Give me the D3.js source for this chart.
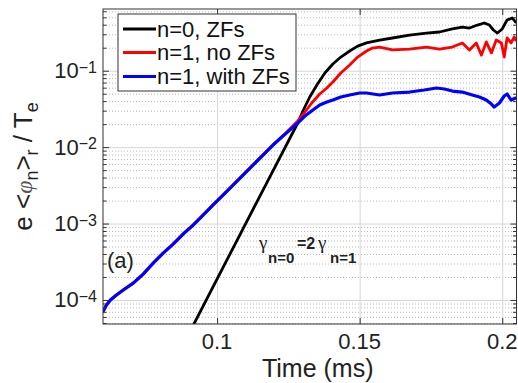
<!DOCTYPE html>
<html>
<head>
<meta charset="utf-8">
<script src="https://cdn.jsdelivr.net/npm/d3@7"></script>
<style>
  html, body { margin: 0; padding: 0; background: #fff; }
  svg { display: block; font-family: "Liberation Sans", Arial, Helvetica, sans-serif; }
</style>
</head>
<body>
<svg id="chart" width="518" height="383"></svg>
<script>
// ---- data: time in ms, amplitude e<phi_n>_r / T_e ----
const blackTime  = [0.0906, 0.1094, 0.1283, 0.1301, 0.1325, 0.1350, 0.1378, 0.1406, 0.1434, 0.1465,
                    0.1493, 0.1524, 0.1570, 0.1615, 0.1675, 0.1734, 0.1780, 0.1825, 0.1860, 0.1885,
                    0.1913, 0.1937, 0.1955, 0.1969, 0.1983, 0.2000, 0.2017, 0.2035, 0.2047];
const blackValue = [3.92e-5, 9.0e-4, 2.07e-2, 0.0297, 0.0453, 0.0650, 0.0933, 0.1224, 0.151, 0.181,
                    0.210, 0.231, 0.252, 0.268, 0.293, 0.311, 0.321, 0.352, 0.373, 0.362,
                    0.396, 0.421, 0.396, 0.341, 0.311, 0.352, 0.461, 0.490, 0.433];

const redTime  = [0.0601, 0.0612, 0.0626, 0.0647, 0.0671, 0.0706, 0.0741, 0.0776, 0.0811, 0.0846,
                  0.0881, 0.0916, 0.0951, 0.0986, 0.1021, 0.1056, 0.1091, 0.1126, 0.1161, 0.1196,
                  0.1231, 0.1255, 0.1283, 0.1308, 0.1332, 0.1360, 0.1385, 0.1406, 0.1434, 0.1465,
                  0.1493, 0.1524, 0.1545, 0.1570, 0.1615, 0.1675, 0.1734, 0.1780, 0.1825, 0.1860,
                  0.1885, 0.1909, 0.1927, 0.1944, 0.1962, 0.1979, 0.1997, 0.2007, 0.2017, 0.2031,
                  0.2042, 0.2047];
const redValue = [7.16e-5, 8.57e-5, 9.98e-5, 1.16e-4, 1.35e-4, 1.66e-4, 2.18e-4, 3.04e-4, 4.11e-4, 5.39e-4,
                  7.29e-4, 9.55e-4, 1.29e-3, 1.75e-3, 2.36e-3, 3.19e-3, 4.31e-3, 5.83e-3, 7.88e-3, 1.065e-2,
                  1.40e-2, 1.73e-2, 2.20e-2, 2.88e-2, 3.78e-2, 4.96e-2, 5.94e-2, 7.11e-2, 9.33e-2, 0.1188,
                  0.151, 0.181, 0.198, 0.204, 0.187, 0.192, 0.204, 0.192, 0.204, 0.231,
                  0.187, 0.231, 0.160, 0.238, 0.171, 0.252, 0.231, 0.151, 0.268, 0.231,
                  0.276, 0.252];

const blueTime  = [0.0601, 0.0612, 0.0626, 0.0647, 0.0671, 0.0706, 0.0741, 0.0776, 0.0811, 0.0846,
                   0.0881, 0.0916, 0.0951, 0.0986, 0.1021, 0.1056, 0.1091, 0.1126, 0.1161, 0.1196,
                   0.1231, 0.1255, 0.1283, 0.1308, 0.1336, 0.1360, 0.1385, 0.1406, 0.1434, 0.1465,
                   0.1500, 0.1524, 0.1570, 0.1615, 0.1675, 0.1727, 0.1769, 0.1797, 0.1825, 0.1860,
                   0.1895, 0.1920, 0.1944, 0.1962, 0.1972, 0.1990, 0.2007, 0.2017, 0.2031, 0.2047];
const blueValue = [7.16e-5, 8.57e-5, 9.98e-5, 1.16e-4, 1.35e-4, 1.66e-4, 2.18e-4, 3.04e-4, 4.11e-4, 5.39e-4,
                   7.29e-4, 9.55e-4, 1.29e-3, 1.75e-3, 2.36e-3, 3.19e-3, 4.31e-3, 5.83e-3, 7.88e-3, 1.065e-2,
                   1.40e-2, 1.67e-2, 2.07e-2, 2.55e-2, 3.06e-2, 3.56e-2, 3.89e-2, 4.13e-2, 4.53e-2, 4.81e-2,
                   5.11e-2, 5.11e-2, 4.81e-2, 5.11e-2, 5.26e-2, 5.59e-2, 5.94e-2, 5.77e-2, 5.42e-2, 5.26e-2,
                   4.81e-2, 4.53e-2, 4.13e-2, 3.66e-2, 3.35e-2, 3.78e-2, 4.67e-2, 4.96e-2, 4.13e-2, 4.39e-2];

const xTicks = [0.1, 0.15, 0.2];
const xTickLabels = ["0.1", "0.15", "0.2"];
const yDecadeExponents = [-4, -3, -2, -1];
const seriesLabels = ["n=0, ZFs", "n=1, no ZFs", "n=1, with ZFs"];

// ---- layout ----
const svg = d3.select("#chart");
const plot = { left: 103, top: 9, right: 516.5, bottom: 324 };
const pw = plot.right - plot.left, ph = plot.bottom - plot.top;
const colors = ["#000000", "#ff0000", "#0000ff"];

const x = d3.scaleLinear().domain([0.06, 0.205]).range([plot.left, plot.right]);
const y = d3.scaleLog().domain([4.85e-5, 0.642]).range([plot.bottom, plot.top]);

const decades = yDecadeExponents.map(e => Math.pow(10, e));
const minorVals = [];
for (let d = -5; d <= 0; d++) {
  for (let k = 2; k <= 9; k++) {
    const v = k * Math.pow(10, d);
    if (v >= y.domain()[0] && v <= y.domain()[1]) minorVals.push(v);
  }
}

// ---- grid ----
function styleGrid(g, color, dash) {
  g.select(".domain").remove();
  g.selectAll("line").attr("stroke", color).attr("stroke-width", 1)
    .attr("stroke-dasharray", dash);
}
svg.append("g").attr("transform", `translate(${plot.left},0)`)
  .call(d3.axisLeft(y).tickValues(minorVals).tickSize(-pw).tickFormat(""))
  .call(g => styleGrid(g, "#b8b8b8", "1,2"));
svg.append("g").attr("transform", `translate(${plot.left},0)`)
  .call(d3.axisLeft(y).tickValues(decades).tickSize(-pw).tickFormat(""))
  .call(g => styleGrid(g, "#d6d6d6", null));
svg.append("g").attr("transform", `translate(0,${plot.bottom})`)
  .call(d3.axisBottom(x).tickValues(xTicks).tickSize(-ph).tickFormat(""))
  .call(g => styleGrid(g, "#d6d6d6", null));

// ---- curves ----
svg.append("clipPath").attr("id", "plotClip")
  .append("rect").attr("x", plot.left).attr("y", plot.top).attr("width", pw).attr("height", ph);

const line = d3.line().x(d => x(d[0])).y(d => y(d[1]));
const series = [
  d3.zip(blackTime, blackValue),
  d3.zip(redTime, redValue),
  d3.zip(blueTime, blueValue)
];
const curves = svg.append("g").attr("clip-path", "url(#plotClip)");
series.forEach((s, i) => {
  curves.append("path").datum(s).attr("d", line)
    .attr("fill", "none").attr("stroke", colors[i])
    .attr("stroke-width", i === 2 ? 3.2 : 2.8)
    .attr("stroke-linejoin", "round").attr("stroke-linecap", "round");
});

// ---- axes box and tick marks ----
function styleTicks(g) {
  g.select(".domain").remove();
  g.selectAll("line").attr("stroke", "#333").attr("stroke-width", 1);
}
svg.append("g").attr("transform", `translate(${plot.left},0)`)
  .call(d3.axisLeft(y).tickValues(decades).tickSize(-6).tickFormat("")).call(styleTicks);
svg.append("g").attr("transform", `translate(${plot.left},0)`)
  .call(d3.axisLeft(y).tickValues(minorVals).tickSize(-3.5).tickFormat("")).call(styleTicks);
svg.append("g").attr("transform", `translate(${plot.right},0)`)
  .call(d3.axisRight(y).tickValues(decades).tickSize(-6).tickFormat("")).call(styleTicks);
svg.append("g").attr("transform", `translate(${plot.right},0)`)
  .call(d3.axisRight(y).tickValues(minorVals).tickSize(-3.5).tickFormat("")).call(styleTicks);
svg.append("g").attr("transform", `translate(0,${plot.bottom})`)
  .call(d3.axisBottom(x).tickValues(xTicks).tickSize(-6).tickFormat("")).call(styleTicks);
svg.append("g").attr("transform", `translate(0,${plot.top})`)
  .call(d3.axisTop(x).tickValues(xTicks).tickSize(-6).tickFormat("")).call(styleTicks);

svg.append("rect").attr("x", plot.left).attr("y", plot.top).attr("width", pw).attr("height", ph)
  .attr("fill", "none").attr("stroke", "#333").attr("stroke-width", 1);

// ---- tick labels ----
yDecadeExponents.forEach(e => {
  const t = svg.append("text").attr("x", 97).attr("y", y(Math.pow(10, e)) + 7.5)
    .attr("text-anchor", "end").attr("fill", "#222");
  t.append("tspan").attr("font-size", 22).text("10");
  t.append("tspan").attr("font-size", 16).attr("dy", -5.5).text("\u2212" + Math.abs(e));
});
xTicks.forEach((v, i) => {
  svg.append("text").attr("x", x(v)).attr("y", 349).attr("text-anchor", "middle")
    .attr("font-size", 22).attr("fill", "#222").text(xTickLabels[i]);
});

// ---- axis titles ----
svg.append("text").attr("x", (plot.left + plot.right) / 2 + 8).attr("y", 377)
  .attr("text-anchor", "middle").attr("font-size", 25).attr("fill", "#222").text("Time (ms)");

const yl = svg.append("text").attr("transform", "translate(32,166.5) rotate(-90)")
  .attr("text-anchor", "middle").attr("font-size", 26).attr("fill", "#222");
yl.append("tspan").text("e <");
yl.append("tspan").attr("font-family", "'Liberation Serif', 'DejaVu Serif', serif")
  .attr("font-style", "italic").attr("font-size", 24).attr("fill", "#555").text("\u03c6");
yl.append("tspan").attr("font-size", 18).attr("dy", 6).text("n");
yl.append("tspan").attr("dy", -6).text(">");
yl.append("tspan").attr("font-size", 18).attr("dy", 6).text("r");
yl.append("tspan").attr("dy", -6).text(" / T");
yl.append("tspan").attr("font-size", 18).attr("dy", 6).text("e");

// ---- legend ----
const lg = svg.append("g");
lg.append("rect").attr("x", 118).attr("y", 14).attr("width", 178).attr("height", 77)
  .attr("fill", "#fff").attr("stroke", "#333").attr("stroke-width", 1);
const rowY = [29, 52.5, 76.5];
seriesLabels.forEach((name, i) => {
  lg.append("line").attr("x1", 123).attr("x2", 156).attr("y1", rowY[i]).attr("y2", rowY[i])
    .attr("stroke", colors[i]).attr("stroke-width", 2.8);
  lg.append("text").attr("x", 157).attr("y", rowY[i] + 7.5).attr("font-size", 22)
    .attr("fill", "#111").text(name);
});

// ---- annotations ----
svg.append("text").attr("x", 107).attr("y", 268).attr("font-size", 22).attr("fill", "#222").text("(a)");

const greek = "'Liberation Serif', 'DejaVu Serif', serif";
svg.append("text").attr("x", 259).attr("y", 249).attr("font-size", 19).attr("font-family", greek)
  .attr("fill", "#222").text("\u03b3");
svg.append("text").attr("x", 268).attr("y", 263).attr("font-size", 15).attr("font-weight", "bold")
  .attr("fill", "#222").text("n=0");
svg.append("text").attr("x", 297).attr("y", 249).attr("font-size", 16).attr("font-weight", "bold")
  .attr("fill", "#222").text("=2");
svg.append("text").attr("x", 318).attr("y", 249).attr("font-size", 19).attr("font-family", greek)
  .attr("fill", "#222").text("\u03b3");
svg.append("text").attr("x", 330).attr("y", 263).attr("font-size", 15).attr("font-weight", "bold")
  .attr("fill", "#222").text("n=1");
</script>
</body>
</html>
